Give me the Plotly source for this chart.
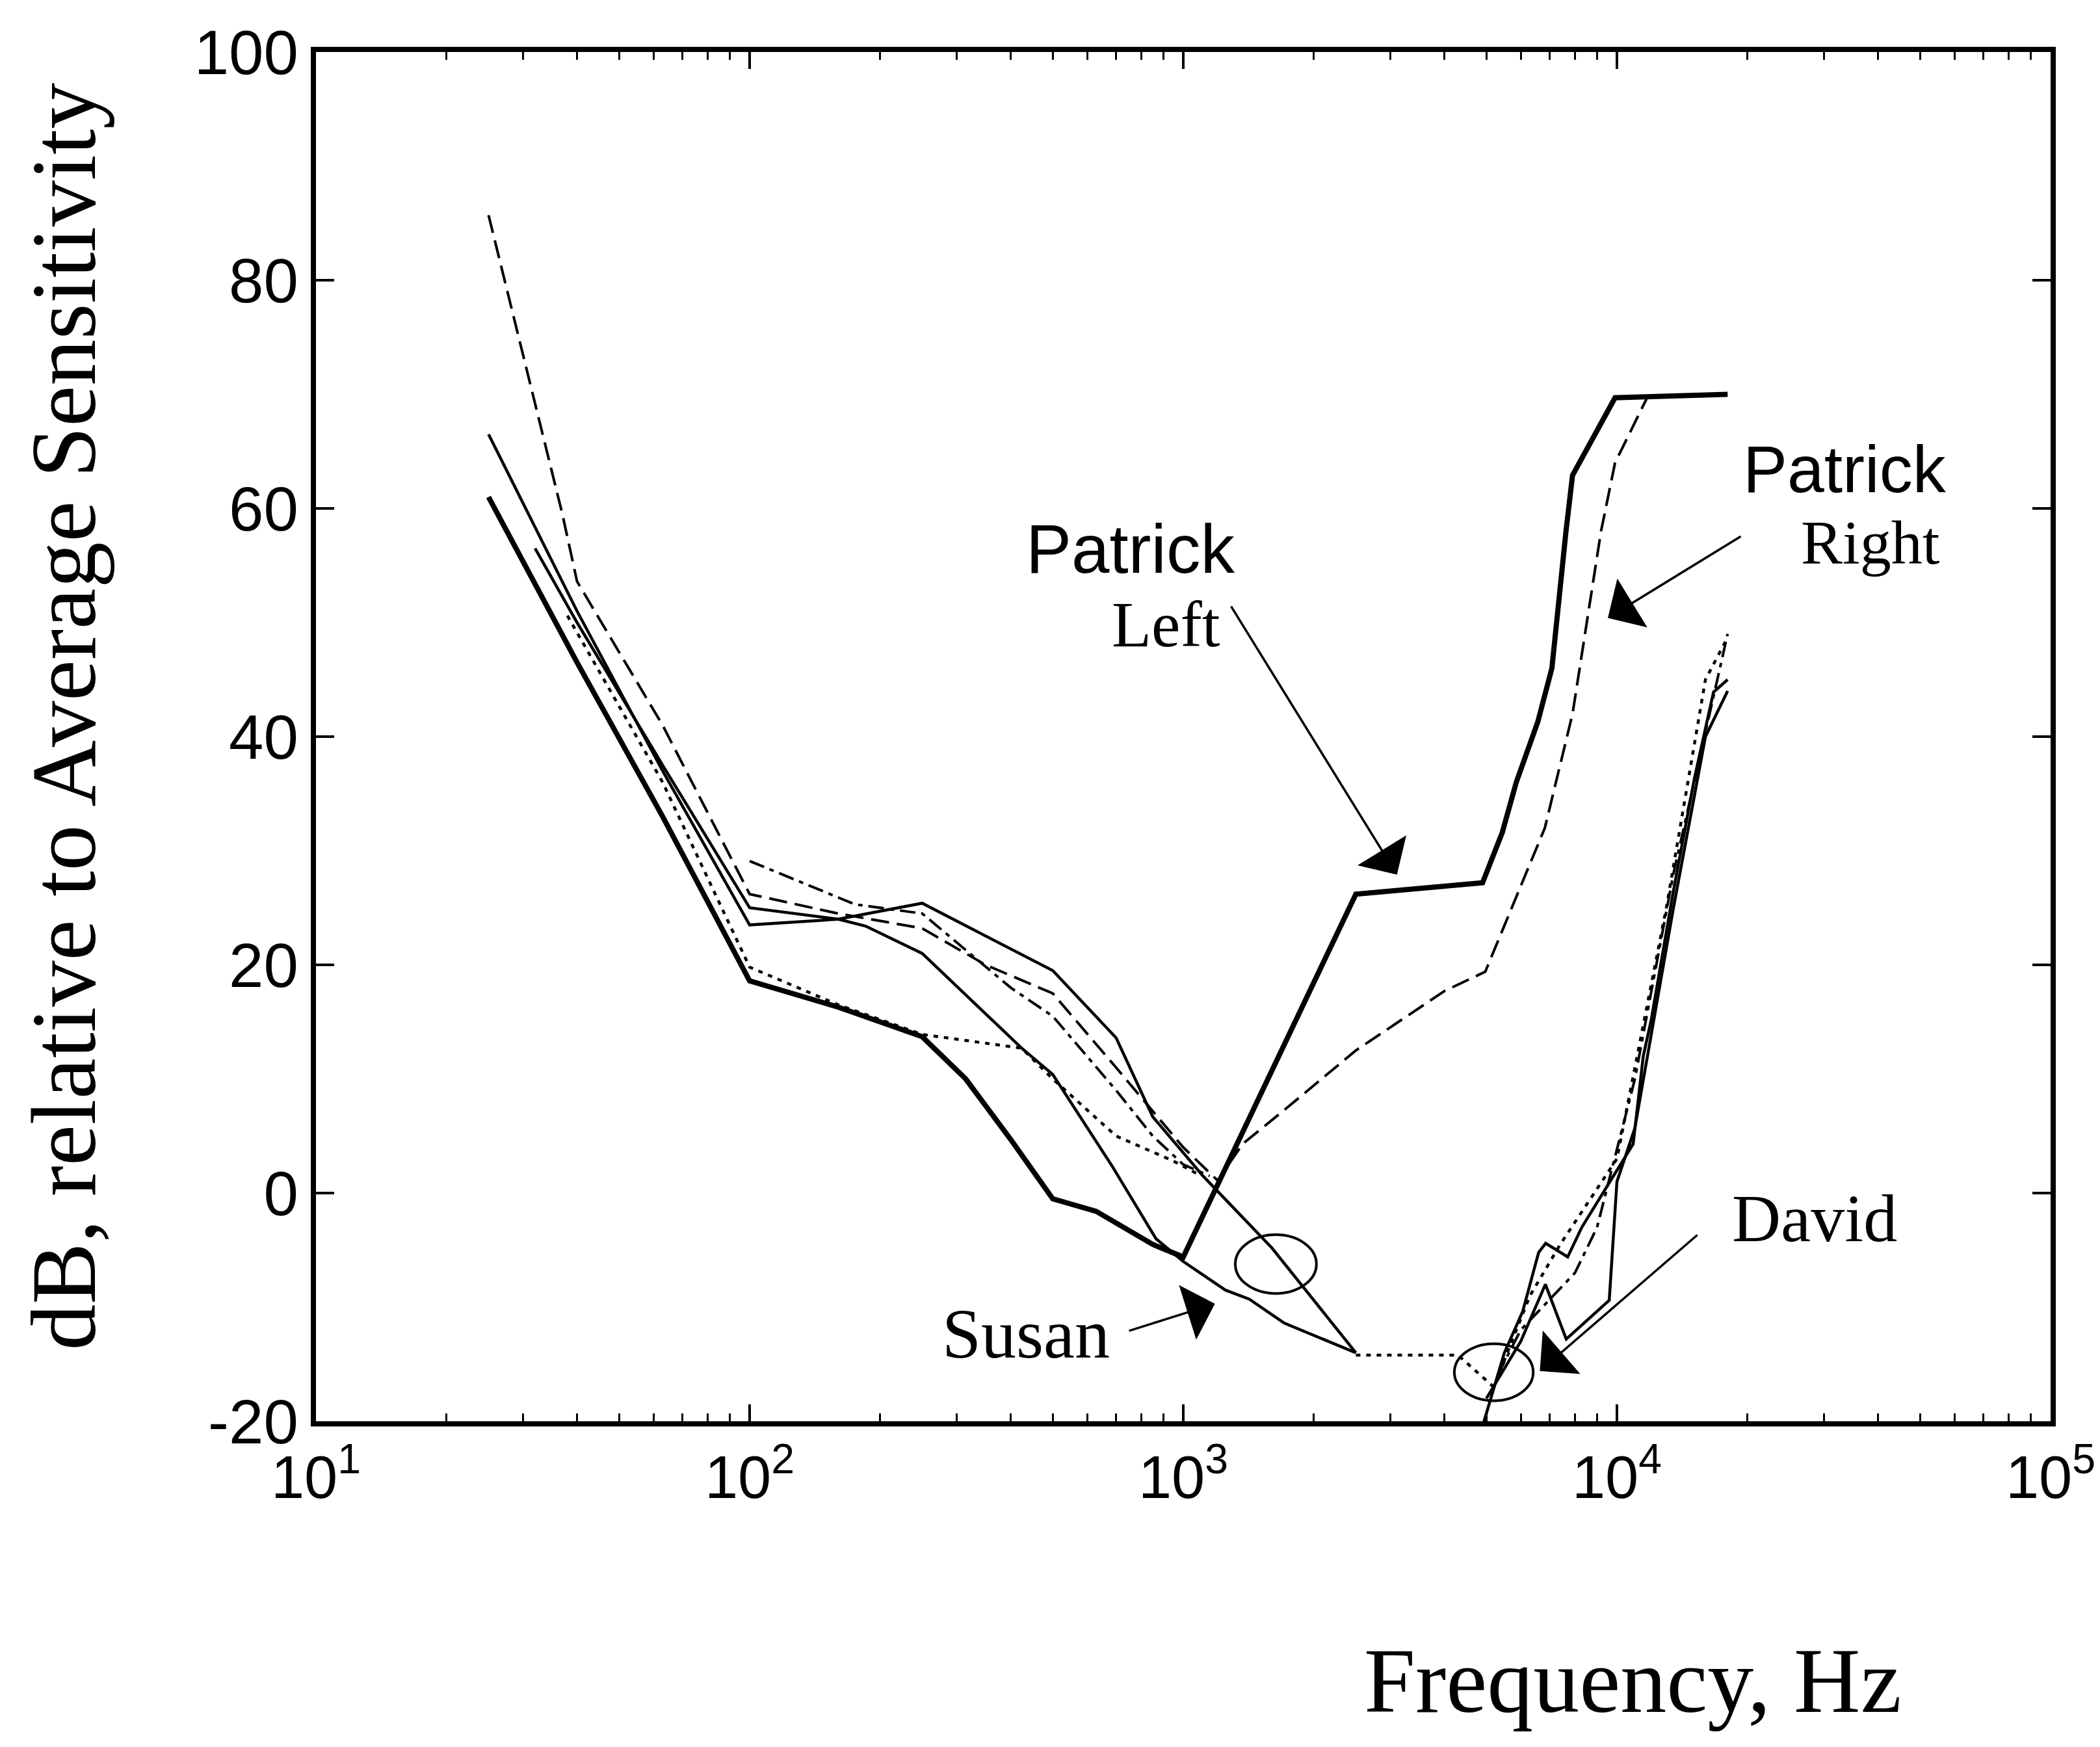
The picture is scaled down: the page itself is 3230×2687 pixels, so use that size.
import math
import plotly.graph_objects as go

# ---------------- data ----------------
freq_patrick_left = [25, 40, 63, 100, 160, 250, 315, 400, 500, 630, 850, 1000, 2500, 4900,
                     5440, 5860, 6570, 7080, 7630, 7900, 9900, 18000]
db_patrick_left = [61, 46.5, 33, 18.6, 16.3, 13.7, 10.0, 4.7, -0.5, -1.6, -4.5, -5.6, 26.2, 27.2,
                   31.6, 36, 41.3, 46, 58, 62.9, 69.7, 70]

freq_patrick_right = [25, 37, 40, 63, 100, 160, 250, 350, 500, 700, 1000, 1200, 1370, 1700, 2500,
                      4000, 4970, 5860, 6820, 7900, 8530, 9190, 9900, 11700]
db_patrick_right = [85.7, 59.5, 53.6, 41, 26.2, 24.5, 23.2, 20, 17.5, 11, 4, 1.1, 4.3, 7.2, 12.5,
                    17.7, 19.4, 26, 32, 42, 50, 58, 64, 69.6]

freq_susan_left = [25, 40, 63, 100, 160, 250, 500, 700, 850, 1110, 1600, 2100, 2500, None,
                   4850, 5500, 6060, 6600, 6850, 7700, 8300, 10900, 11500, 12000, 13500, 15100, 16700, 18000]
db_susan_left = [66.5, 51, 37, 23.5, 24, 25.4, 19.5, 13.6, 6.7, 1.5, -4.8, -10.4, -14, None,
                 -21, -14, -10.4, -5.2, -4.4, -5.6, -3, 4.3, 12, 15.2, 26.5, 36.4, 43.9, 45]

freq_susan_right = [32, 40, 63, 100, 160, 185, 250, 343, 424, 500, 687, 865, 1000, 1250, 1420, 1710,
                    2190, 2500, None, 5000, 6000, 6840, 7640, 9600, 10000, 11000, 13500, 16000, 18000]
db_susan_right = [56.5, 50, 37.5, 25, 24, 23.4, 21, 16, 12.7, 10.4, 2.3, -4.0, -6, -8.5, -9.3, -11.4,
                  -13.1, -14, None, -18, -13, -8, -12.8, -9.4, 1, 5.7, 25, 40, 44]

freq_david_left = [38, 63, 100, 160, 250, 424, 500, 700, 950, 1100, None, 2500, 4300, 5200, 6300,
                   7400, 8500, 10000, 13000, 16000, 18000]
db_david_left = [50.6, 36, 19.8, 16.5, 13.9, 12.7, 10, 5, 2.8, 1.5, None, -14.2, -14.2, -17, -9,
                 -4.5, -1, 3, 25, 45, 48.7]

freq_david_right = [100, 175, 250, 400, 500, 700, 850, 1000, 1150, None, 5300, 6000, 8000, 9000,
                    11000, 13500, 18000]
db_david_right = [29.1, 25.3, 24.5, 18, 15.5, 9, 5, 2.5, 1.5, None, -16, -12, -7, -3, 10, 28, 49]

x_tick_vals = [10, 100, 1000, 10000, 100000]
x_tick_text = ["10<sup>1</sup>", "10<sup>2</sup>", "10<sup>3</sup>", "10<sup>4</sup>", "10<sup>5</sup>"]
y_tick_vals = [-20, 0, 20, 40, 60, 80, 100]
y_tick_text = ["-20", "0", "20", "40", "60", "80", "100"]
minor_x_vals = [m * 10 ** e for e in range(1, 5) for m in range(2, 10)]

# ---------------- figure ----------------
W, H = 3230, 2687
ML, MR, MT, MB = 478, 84, 72, 509

fig = go.Figure()

def add(fx, fy, width, dash, name):
    fig.add_trace(go.Scatter(x=fx, y=fy, mode="lines", name=name, connectgaps=False,
                             line=dict(color="black", width=width, dash=dash),
                             showlegend=False))

add(freq_patrick_left, db_patrick_left, 8, "solid", "Patrick Left")
add(freq_patrick_right, db_patrick_right, 4, "28px,12px", "Patrick Right")
add(freq_susan_left, db_susan_left, 4.5, "solid", "Susan Left")
add(freq_susan_right, db_susan_right, 4.5, "solid", "Susan Right")
add(freq_david_left, db_david_left, 4.5, "7px,9px", "David Left")
add(freq_david_right, db_david_right, 4, "24px,9px,7px,9px", "David Right")

serif = "Liberation Serif, Times New Roman, serif"
sans = "Liberation Sans, Arial, sans-serif"

annotations = []

def label(text, px, py, font, size):
    annotations.append(dict(text=text, xref="paper", yref="paper",
                            x=(px - ML) / (W - ML - MR), y=(H - MB - py) / (H - MT - MB),
                            xanchor="center", yanchor="middle", showarrow=False,
                            font=dict(family=font, size=size, color="black")))

label("Patrick", 1730, 836, sans, 105)
label("Left", 1785, 953, serif, 100)
label("Patrick", 2829, 714, sans, 102)
label("Right", 2869, 826, serif, 96)
label("David", 2783, 1865, serif, 104)
label("Susan", 1570, 2043, serif, 108)

def arrow(tip_f, tip_db, tail_f, tail_db):
    annotations.append(dict(text="", showarrow=True, xref="x", yref="y", axref="x", ayref="y",
                            x=math.log10(tip_f), y=tip_db,
                            ax=math.log10(tail_f), ay=tail_db,
                            arrowhead=1, arrowsize=4.2, arrowwidth=3.5, arrowcolor="black"))

arrow(3110, 27.9, 1285, 51.5)     # Patrick Left
arrow(9530, 50.4, 19400, 57.6)    # Patrick Right
arrow(6640, -15.6, 15400, -3.6)   # David
arrow(1183, -9.7, 746, -12.1)     # Susan

# axis titles
annotations.append(dict(text="dB, relative to Average Sensitivity", xref="paper", yref="paper",
                        x=(90 - ML) / (W - ML - MR), y=(H - MB - 1095) / (H - MT - MB),
                        xanchor="center", yanchor="middle", textangle=-90, showarrow=False,
                        font=dict(family=serif, size=142, color="black")))
annotations.append(dict(text="Frequency, Hz", xref="paper", yref="paper",
                        x=(2503 - ML) / (W - ML - MR), y=(H - MB - 2577) / (H - MT - MB),
                        xanchor="center", yanchor="middle", showarrow=False,
                        font=dict(family=serif, size=142, color="black")))

shapes = [
    dict(type="circle", xref="x", yref="y", x0=1318, x1=2028, y0=-8.8, y1=-3.65,
         line=dict(color="black", width=4)),
    dict(type="circle", xref="x", yref="y", x0=4217, x1=6412, y0=-18.2, y1=-13.2,
         line=dict(color="black", width=4)),
]

fig.update_layout(
    width=W, height=H,
    margin=dict(l=ML, r=MR, t=MT, b=MB),
    paper_bgcolor="white", plot_bgcolor="white",
    annotations=annotations, shapes=shapes,
    xaxis=dict(type="log", range=[1, 5], tickvals=x_tick_vals, ticktext=x_tick_text,
               ticks="inside", ticklen=26, tickwidth=4, tickcolor="black",
               showline=True, linecolor="black", linewidth=8, mirror="ticks",
               showgrid=False, zeroline=False,
               tickfont=dict(family=sans, size=92, color="black"),
               minor=dict(tickvals=minor_x_vals, ticks="inside", ticklen=12, tickwidth=3,
                          tickcolor="black", showgrid=False)),
    yaxis=dict(range=[-20, 100], tickvals=y_tick_vals, ticktext=y_tick_text,
               ticks="inside", ticklen=28, tickwidth=4, tickcolor="black",
               showline=True, linecolor="black", linewidth=8, mirror="ticks",
               showgrid=False, zeroline=False,
               tickfont=dict(family=sans, size=96, color="black")),
)

fig.write_html("out.html")
